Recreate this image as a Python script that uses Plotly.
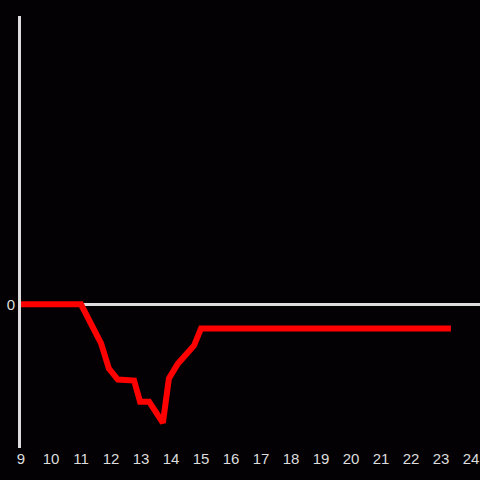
import plotly.graph_objects as go

hours = [9, 11, 11.67, 11.93, 12.23, 12.77, 12.97, 13.27, 13.73, 13.93, 14.23, 14.77, 15.0, 23.33]
values = [0, 0, -0.406, -0.667, -0.78, -0.79, -1.01, -1.01, -1.23, -0.77, -0.615, -0.427, -0.25, -0.25]
x_ticks = list(range(9, 25))
y_ticks = [0]

fig = go.Figure()
fig.add_trace(go.Scatter(x=hours, y=values, mode="lines",
                         line=dict(color="#ff0000", width=6), hoverinfo="skip"))

fig.update_layout(
    width=480, height=480,
    paper_bgcolor="#030104", plot_bgcolor="#030104",
    margin=dict(l=21, r=0, t=16, b=32),
    showlegend=False,
    font=dict(family="Liberation Sans, Arial, sans-serif", size=15, color="#dddddd"),
    xaxis=dict(range=[9, 24.3], tickvals=x_ticks, ticktext=[str(t) for t in x_ticks],
               showgrid=False, zeroline=False, showline=False, ticks="", fixedrange=True),
    yaxis=dict(range=[-1.49, 2.99], tickvals=y_ticks, ticktext=["0"],
               showgrid=False, zeroline=True, zerolinecolor="#dddddd", zerolinewidth=3,
               showline=True, linecolor="#dddddd", linewidth=3, ticks="", ticklabelstandoff=0,
               fixedrange=True),
)
fig.write_html("out.html", config={"displayModeBar": False},
               post_script="document.body.style.margin='0';document.body.style.background='#030104';")
